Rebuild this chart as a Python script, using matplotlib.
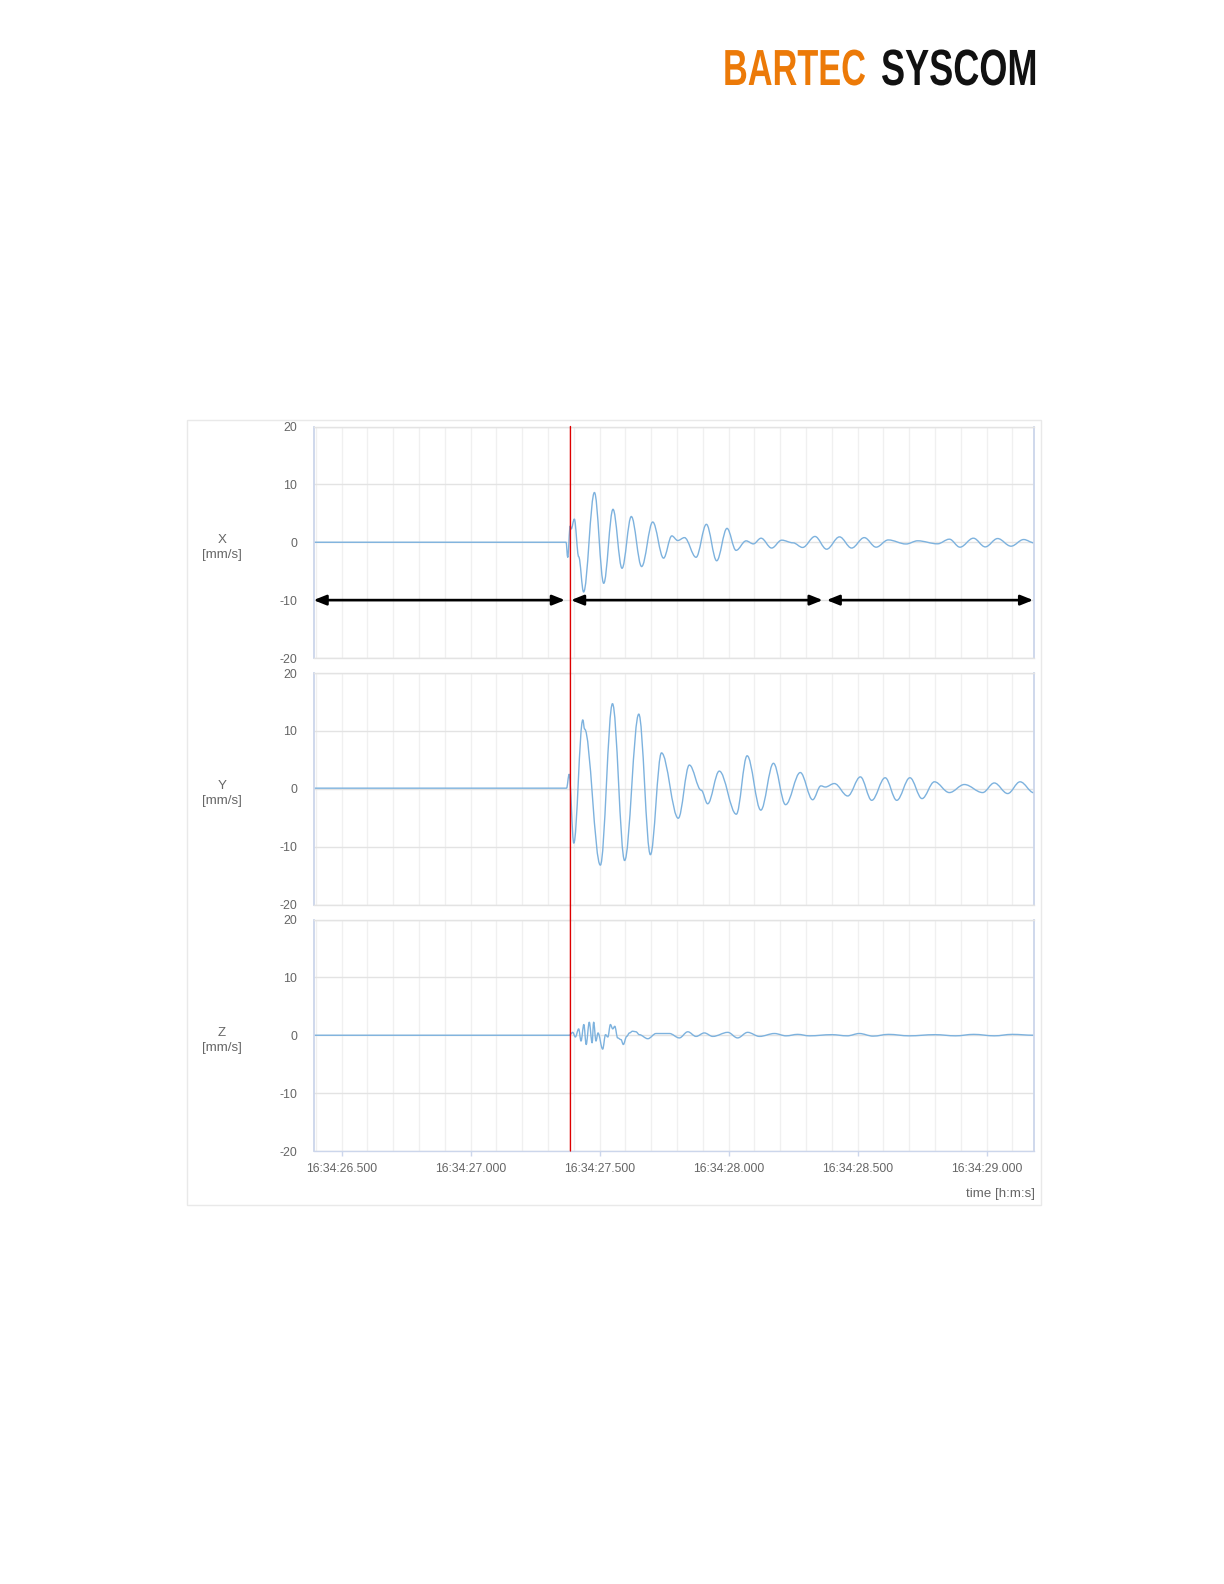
import matplotlib
matplotlib.use("Agg")
import matplotlib.pyplot as plt
from matplotlib.path import Path
from matplotlib.patches import PathPatch, Rectangle, ConnectionPatch
from matplotlib.ticker import MultipleLocator, FuncFormatter, FixedLocator
from matplotlib import patheffects
from matplotlib.transforms import Affine2D

plt.rcParams['font.family'] = ['Liberation Sans', 'DejaVu Sans']
plt.rcParams['axes.unicode_minus'] = False

# ---------------- data ----------------
time_prefix = "16:34:"
t_start, t_end = 26.391, 29.184
trigger_time = 27.387
y_ticks = [-20, -10, 0, 10, 20]
x_ticks = [26.5, 27.0, 27.5, 28.0, 28.5, 29.0]
channel_names = ["X", "Y", "Z"]
unit_label = "[mm/s]"
x_title = "time [h:m:s]"
logo_left = "BARTEC"
logo_right = "SYSCOM"

t_x = [26.391, 27.370, 27.3765, 27.386, 27.390, 27.402, 27.419, 27.438, 27.480, 27.516,
       27.552, 27.587, 27.623, 27.663, 27.706, 27.748, 27.780, 27.803, 27.829, 27.874,
       27.914, 27.954, 27.994, 28.029, 28.068, 28.096, 28.126, 28.167, 28.206, 28.250,
       28.287, 28.335, 28.380, 28.430, 28.477, 28.526, 28.572, 28.619, 28.688, 28.733,
       28.810, 28.856, 28.897, 28.949, 28.995, 29.043, 29.095, 29.144, 29.184]
v_x = [0.0, 0.0, -2.6, 2.8, 2.3, 4.0, -2.5, -8.6, 8.6, -7.1,
       5.7, -4.5, 4.45, -4.2, 3.5, -2.75, 1.1, 0.3, 0.8, -2.6,
       3.1, -3.2, 2.4, -1.4, 0.24, -0.28, 0.7, -1.0, 0.36, -0.1,
       -0.9, 1.0, -1.2, 0.93, -1.0, 0.8, -0.85, 0.4, -0.3, 0.25,
       -0.27, 0.53, -0.85, 0.7, -0.8, 0.64, -0.68, 0.47, -0.1]

t_y = [26.391, 27.372, 27.382, 27.400, 27.435, 27.442, 27.503, 27.550, 27.597, 27.652,
       27.697, 27.740, 27.805, 27.848, 27.894, 27.919, 27.964, 28.030, 28.072, 28.125,
       28.174, 28.221, 28.278, 28.326, 28.358, 28.375, 28.410, 28.462, 28.511, 28.555,
       28.607, 28.652, 28.703, 28.750, 28.798, 28.856, 28.914, 28.985, 29.030, 29.082,
       29.130, 29.184]
v_y = [0.1, 0.1, 2.5, -9.4, 11.9, 10.3, -13.2, 14.7, -12.4, 12.9,
       -11.4, 6.2, -5.1, 4.1, -0.25, -2.6, 3.05, -4.4, 5.7, -3.7,
       4.4, -2.75, 2.8, -1.9, 0.5, 0.3, 0.9, -1.25, 2.05, -2.0,
       1.9, -2.0, 1.9, -1.7, 1.2, -0.66, 0.73, -0.66, 1.0, -0.83,
       1.2, -0.7]

t_z = [26.391, 27.383, 27.396, 27.406, 27.419, 27.428, 27.439, 27.448, 27.460, 27.471,
       27.477, 27.486, 27.494, 27.512, 27.523, 27.532, 27.542, 27.551, 27.559, 27.570,
       27.583, 27.592, 27.605, 27.616, 27.628, 27.641, 27.654, 27.687, 27.719, 27.771,
       27.809, 27.842, 27.874, 27.906, 27.939, 27.997, 28.035, 28.074, 28.120, 28.178,
       28.223, 28.268, 28.313, 28.400, 28.460, 28.507, 28.560, 28.620, 28.700, 28.800,
       28.880, 28.950, 29.030, 29.100, 29.184]
v_z = [0.0, 0.0, 0.5, -0.3, 1.1, -1.0, 1.85, -1.6, 2.25, -1.3,
       2.25, -1.0, 0.4, -2.4, 0.1, -0.3, 1.85, 1.1, 1.55, -0.46,
       -0.75, -1.6, -0.2, 0.4, 0.7, 0.6, 0.1, -0.6, 0.3, 0.3,
       -0.46, 0.6, -0.2, 0.4, -0.2, 0.5, -0.46, 0.5, -0.2, 0.3,
       -0.1, 0.15, -0.1, 0.1, -0.1, 0.3, -0.15, 0.15, -0.1, 0.1,
       -0.1, 0.15, -0.1, 0.15, 0.0]

arrow_from = [26.391, 27.389, 28.380]
arrow_to = [27.366, 28.365, 29.181]
arrow_level = -10

series_t = [t_x, t_y, t_z]
series_v = [v_x, v_y, v_z]
for a, b in zip(series_t, series_v):
    assert len(a) == len(b)

# ---------------- style / layout ----------------
W, H = 1224, 1584
LINE_COLOR = "#7db2de"
TEXT_COLOR = "#666666"
AXIS_COLOR = "#ccd6eb"
HGRID = "#e3e3e3"
VGRID = "#f0f0f0"


def fx(px):
    return px / W


def fy(py):
    return 1 - py / H


def smooth_path(t, v, k=0.36):
    verts = [(t[0], v[0])]
    codes = [Path.MOVETO]
    for i in range(1, len(t)):
        dt = t[i] - t[i - 1]
        verts += [(t[i - 1] + k * dt, v[i - 1]), (t[i] - k * dt, v[i]), (t[i], v[i])]
        codes += [Path.CURVE4] * 3
    return Path(verts, codes)


class Stretch(patheffects.AbstractPathEffect):
    """Scales the glyph outlines about the text origin (text stays a Text artist)."""

    def __init__(self, sx=1.0, sy=1.0):
        super().__init__()
        self._sx, self._sy = sx, sy

    def draw_path(self, renderer, gc, tpath, affine, rgbFace=None):
        renderer.draw_path(gc, tpath, Affine2D().scale(self._sx, self._sy) + affine, rgbFace)


fig = plt.figure(figsize=(W / 100, H / 100), dpi=100)

# outer frame
fig.add_artist(Rectangle((fx(187), fy(1205)), fx(1041) - fx(187), fy(420) - fy(1205),
                         transform=fig.transFigure, fill=False, edgecolor="#e9e9e9", lw=1))

left_px, right_px = 313.5, 1034.0
panels_px = [(426.5, 658.0), (673.0, 904.5), (919.5, 1151.0)]
axes = []
for i, (top, bot) in enumerate(panels_px):
    ax = fig.add_axes([fx(left_px), fy(bot), fx(right_px) - fx(left_px), (bot - top) / H])
    axes.append(ax)
    ax.add_patch(PathPatch(smooth_path(series_t[i], series_v[i]), fill=False,
                           edgecolor=LINE_COLOR, lw=1.0, joinstyle="round", capstyle="round"))
    ax.set_xlim(t_start, t_end)
    ax.set_ylim(-20, 20)
    ax.yaxis.set_major_locator(FixedLocator(y_ticks))
    ax.xaxis.set_major_locator(FixedLocator(x_ticks))
    ax.xaxis.set_minor_locator(MultipleLocator(0.1))
    ax.xaxis.set_major_formatter(FuncFormatter(lambda s, pos: f"{time_prefix}{s:06.3f}"))
    ax.set_axisbelow(True)
    ax.grid(which="both", axis="x", color=VGRID, lw=1)
    ax.grid(which="major", axis="y", color=HGRID, lw=1)
    for side in ("left", "right"):
        ax.spines[side].set_color(AXIS_COLOR)
        ax.spines[side].set_linewidth(1.3)
    ax.spines["top"].set_color(HGRID)
    ax.spines["top"].set_linewidth(1)
    ax.spines["bottom"].set_color(HGRID if i < 2 else AXIS_COLOR)
    ax.spines["bottom"].set_linewidth(1)
    ax.tick_params(axis="y", length=0, pad=11.6, labelsize=8.9, labelcolor=TEXT_COLOR)
    ax.tick_params(axis="x", which="minor", length=0)
    if i < 2:
        ax.tick_params(axis="x", which="major", length=0, labelbottom=False)
    else:
        ax.tick_params(axis="x", which="major", length=3.6, width=1, color=AXIS_COLOR,
                       pad=5.4, labelsize=8.8, labelcolor=TEXT_COLOR)
    ax.set_ylabel(f"{channel_names[i]}\n{unit_label}", rotation=0, ha="center", va="center",
                  fontsize=9.6, color=TEXT_COLOR, linespacing=1.3)
    ax.yaxis.set_label_coords((222 - left_px) / (right_px - left_px), 0.478)

# trigger line through all panels
cp = ConnectionPatch(xyA=(trigger_time, 20), coordsA=axes[0].transData,
                     xyB=(trigger_time, -20), coordsB=axes[2].transData,
                     color="#dd0000", lw=1.0)
fig.add_artist(cp)

# double-headed arrows
for a, b in zip(arrow_from, arrow_to):
    axes[0].annotate("", xy=(b, arrow_level), xytext=(a, arrow_level),
                     arrowprops=dict(arrowstyle="<|-|>,head_length=0.75,head_width=0.3",
                                     mutation_scale=10, lw=1.9, color="black",
                                     shrinkA=0, shrinkB=0),
                     annotation_clip=False)

fig.text(fx(1035), fy(1194), x_title, ha="right", va="center", fontsize=9.6, color=TEXT_COLOR)

# logo (condensed look: natural width matches, glyphs stretched vertically)
fig.text(fx(723), fy(85), logo_left, ha="left", va="baseline", fontsize=24.7,
         fontweight="bold", color="#ec7a08", path_effects=[Stretch(1.0, 1.48)])
fig.text(fx(881), fy(85), logo_right, ha="left", va="baseline", fontsize=26.0,
         fontweight="bold", color="#111111", path_effects=[Stretch(1.0, 1.41)])

fig.savefig("out.png", dpi=100)
